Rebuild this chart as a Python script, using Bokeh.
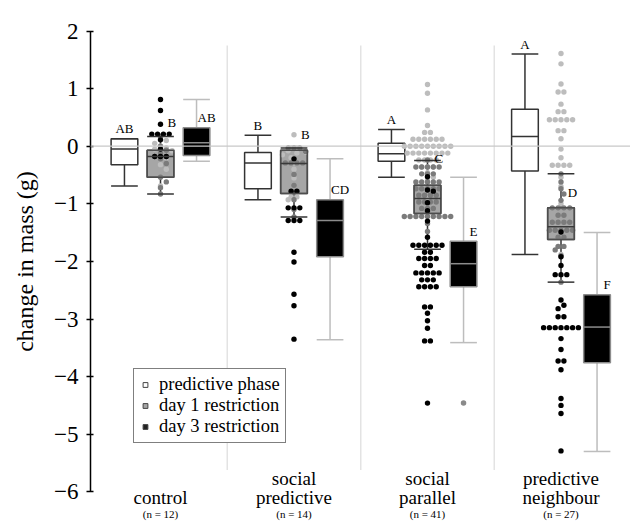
import numpy as np
from bokeh.plotting import figure
from bokeh.models import Range1d, FixedTicker, Legend, LegendItem, LinearAxis, Span
from bokeh.core.properties import value
from bokeh.embed import file_html
from bokeh.resources import INLINE

# ---------------- data ----------------
groups = ["control", "social predictive", "social parallel", "predictive neighbour"]
label_top = ["", "social", "social", "predictive"]
label_bottom = ["control", "predictive", "parallel", "neighbour"]
n_labels = ["(n = 12)", "(n = 14)", "(n = 41)", "(n = 27)"]
phases = ["predictive phase", "day 1 restriction", "day 3 restriction"]

# box statistics (q1, median, q3, lower whisker, upper whisker) per group
pp_q1 = [-0.32, -0.74, -0.26, -0.43]
pp_med = [-0.05, -0.29, -0.13, 0.17]
pp_q3 = [0.13, -0.11, 0.05, 0.64]
pp_lo = [-0.69, -0.93, -0.54, -1.88]
pp_hi = [0.13, 0.19, 0.29, 1.60]

d1_q1 = [-0.54, -0.82, -1.17, -1.62]
d1_med = [-0.18, -0.30, -0.91, -1.40]
d1_q3 = [-0.07, -0.07, -0.68, -1.07]
d1_lo = [-0.83, -1.23, -1.79, -2.36]
d1_hi = [0.17, -0.03, -0.25, -0.48]

d3_q1 = [-0.16, -1.92, -2.44, -3.76]
d3_med = [0.06, -1.29, -2.04, -3.14]
d3_q3 = [0.32, -0.93, -1.65, -2.58]
d3_lo = [-0.26, -3.36, -3.41, -5.30]
d3_hi = [0.81, -0.22, -0.54, -1.50]

d3_outlier_group = [2]
d3_outlier_value = [-4.46]

# significance letters
pp_letters = ["AB", "B", "A", "A"]
d1_letters = ["B", "B", "C", "D"]
d3_letters = ["AB", "CD", "E", "F"]
d1_letter_y = [0.41, 0.20, -0.21, -0.80]

# individual values (one list per group)
pp_points = [
    [0.13, 0.10, 0.05, 0.0, -0.03, -0.05, -0.08, -0.12, -0.20, -0.32, -0.40, -0.69],
    [0.20, -0.03, -0.03, -0.08, -0.10, -0.12, -0.15, -0.20, -0.29, -0.40, -0.55, -0.88, -0.88, -0.93],
    [1.07, 0.92, 0.63, 0.36, 0.24, 0.24] + [0.12] * 6 + [0.0] * 9 + [-0.12] * 8 + [-0.24] * 4
    + [-0.36] * 3 + [-0.46, -0.54, -0.60, -0.75, -0.90],
    [1.61, 1.43, 1.08, 0.94, 0.94, 0.73, 0.60, 0.60] + [0.46] * 5 + [0.27, 0.27, 0.13, -0.05, -0.20]
    + [-0.33] * 4 + [-0.54, -0.70, -1.00, -1.45, -1.88],
]
d1_points = [
    [0.17, 0.0, -0.07, -0.12, -0.18, -0.18, -0.22, -0.30, -0.54, -0.62, -0.72, -0.83],
    [-0.03, -0.03, -0.03, -0.09, -0.29, -0.29, -0.29, -0.29, -0.49, -0.68, -0.80, -0.93, -1.10, -1.23],
    [-0.24] + [-0.36] * 5 + [-0.48] * 3 + [-0.62] * 5 + [-0.74] * 5 + [-0.85] * 4 + [-0.97] * 4
    + [-1.08] * 3 + [-1.22] * 9 + [-1.34, -1.48],
    [-0.48, -0.62, -0.74, -0.83, -0.94] + [-1.07] * 4 + [-1.20] * 2 + [-1.32] * 4 + [-1.46] * 5
    + [-1.58] * 2 + [-1.74] * 2 + [-1.80, -1.90, -2.36],
]
d3_points = [
    [0.81, 0.62, 0.38, 0.21, 0.21, 0.21, 0.21, 0.11, -0.05, -0.18, -0.18, -0.18],
    [-0.22, -0.78, -0.78, -1.07, -1.07, -1.07, -1.29, -1.29, -1.29, -1.84, -2.01, -2.57, -2.77, -3.35],
    [-0.53, -0.76, -0.78, -0.98, -1.12, -1.30, -1.58] + [-1.72] * 6 + [-1.84] * 2 + [-1.95] * 4
    + [-2.07] * 2 + [-2.20] * 5 + [-2.32] * 3 + [-2.44] * 4 + [-2.79] * 2 + [-2.90, -3.03, -3.16]
    + [-3.38] * 2 + [-4.46],
    [-1.49, -1.92, -2.07] + [-2.23] * 3 + [-2.67, -2.76, -2.82] + [-2.96] * 2 + [-3.15] * 7
    + [-3.34, -3.53] + [-3.73] * 2 + [-3.88, -4.38, -4.50, -4.64, -5.29],
]

yticks = [-6, -5, -4, -3, -2, -1, 0, 1, 2]

# ---------------- layout ----------------
W, H = 630, 522
LEFT = 90
ZERO_PX = 145.7
YPX = 57.6
XPX = 133.5
X_CENTER0 = 160.0
X0 = (LEFT - X_CENTER0) / XPX
X1 = (W - X_CENTER0) / XPX
Y1 = ZERO_PX / YPX
Y0 = (ZERO_PX - H) / YPX
OFF = [-0.27, 0.0, 0.27]
BOXW = 0.2
FONT = "Liberation Serif"


def ypix(py):
    """data value at a given vertical pixel of the canvas"""
    return (ZERO_PX - py) / YPX


p = figure(width=W, height=H, x_range=Range1d(X0, X1), y_range=Range1d(Y0, Y1),
           output_backend="svg", toolbar_location=None,
           x_axis_location=None, y_axis_location=None,
           min_border_left=LEFT, min_border_right=0, min_border_top=0, min_border_bottom=0)
p.outline_line_color = None
p.grid.visible = False
p.background_fill_color = "white"

yaxis = LinearAxis(ticker=FixedTicker(ticks=yticks), bounds=(-6, 2))
yaxis.major_label_overrides = {t: (("\u2212" + str(-t)) if t < 0 else str(t)) for t in yticks}
yaxis.axis_label = "change in mass (g)"
yaxis.axis_label_text_font = FONT
yaxis.axis_label_text_font_size = "24px"
yaxis.axis_label_text_font_style = "normal"
yaxis.axis_label_text_color = "black"
yaxis.axis_label_standoff = 13
yaxis.major_label_text_font = FONT
yaxis.major_label_text_font_size = "23px"
yaxis.major_label_text_color = "black"
yaxis.major_label_standoff = 8
yaxis.major_tick_in = 3
yaxis.major_tick_out = 4
yaxis.minor_tick_in = 0
yaxis.minor_tick_out = 0
yaxis.axis_line_width = 1.5
yaxis.axis_line_color = "black"
yaxis.major_tick_line_width = 1.5
yaxis.major_tick_line_color = "black"
p.add_layout(yaxis, "left")

ng = len(groups)
gx = np.arange(ng, dtype=float)

# separators and zero line
p.segment(x0=gx[:-1] + 0.5, x1=gx[:-1] + 0.5, y0=1.75, y1=-5.62, line_color="#e3e3e3", line_width=1.5)
p.add_layout(Span(location=0, dimension="width", line_color="#c8c8c8", line_width=1.2))

stats = [
    (pp_q1, pp_med, pp_q3, pp_lo, pp_hi),
    (d1_q1, d1_med, d1_q3, d1_lo, d1_hi),
    (d3_q1, d3_med, d3_q3, d3_lo, d3_hi),
]
fills = ["white", "#a6a6a6", "black"]
lines = ["#333333", "#4d4d4d", "#8c8c8c"]
meds = ["#333333", "#3a3a3a", "#8c8c8c"]
whisk = ["#333333", "#333333", "#bdbdbd"]

for k in range(3):
    q1, med, q3, lo, hi = [np.array(a, float) for a in stats[k]]
    x = gx + OFF[k]
    p.segment(x0=x, x1=x, y0=q3, y1=hi, line_color=whisk[k], line_width=1.5)
    p.segment(x0=x, x1=x, y0=q1, y1=lo, line_color=whisk[k], line_width=1.5)
    p.vbar(x=x, width=BOXW, bottom=q1, top=q3, fill_color=fills[k], line_color=lines[k], line_width=1.5)
    if k != 1:
        p.segment(x0=x - BOXW / 2, x1=x + BOXW / 2, y0=med, y1=med, line_color=meds[k], line_width=1.5)
        p.segment(x0=x - BOXW / 2, x1=x + BOXW / 2, y0=hi, y1=hi, line_color=whisk[k], line_width=1.5)
        p.segment(x0=x - BOXW / 2, x1=x + BOXW / 2, y0=lo, y1=lo, line_color=whisk[k], line_width=1.5)

# outliers of day 3
p.scatter(x=np.array(d3_outlier_group, float) + OFF[2], y=d3_outlier_value, size=5.5,
          fill_color="#8a8a8a", line_color=None)


def swarm(vals, step):
    vals = np.asarray(vals, float)
    order = np.argsort(-vals, kind="stable")
    offs = np.zeros(len(vals))
    placed = []
    cands = [0.0]
    for m in range(1, 60):
        cands += [m * step / 2, -m * step / 2]
    for i in order:
        y = vals[i] * YPX
        for c in cands:
            if all((c - px) ** 2 + (y - py) ** 2 >= (step * 0.97) ** 2 for px, py in placed):
                offs[i] = c
                placed.append((c, y))
                break
    for v in np.unique(vals):
        idx = np.where(vals == v)[0]
        if len(idx) > 1:
            offs[idx] -= offs[idx].mean()
    return offs / XPX


dot_colors = ["#bdbdbd", "#7b7b7b", "#000000"]
STEP = 5.8
for k, pts in enumerate([pp_points, d1_points, d3_points]):
    xs, ys = [], []
    for g in range(ng):
        o = swarm(pts[g], STEP)
        xs.extend(list(gx[g] + OFF[1] + o))
        ys.extend(pts[g])
    p.scatter(x=xs, y=ys, size=5.4, fill_color=dot_colors[k], line_color=None)

# day-1 box outline, median and caps on top of the dots
q1, med, q3, lo, hi = [np.array(a, float) for a in stats[1]]
x = gx + OFF[1]
p.vbar(x=x, width=BOXW, bottom=q1, top=q3, fill_color=None, line_color=lines[1], line_width=1.5)
p.segment(x0=x - BOXW / 2, x1=x + BOXW / 2, y0=med, y1=med, line_color=meds[1], line_width=1.5)
p.segment(x0=x - BOXW / 2, x1=x + BOXW / 2, y0=hi, y1=hi, line_color=whisk[1], line_width=1.5)
p.segment(x0=x - BOXW / 2, x1=x + BOXW / 2, y0=lo, y1=lo, line_color=whisk[1], line_width=1.5)

# letters
lt = dict(text_font=value(FONT), text_font_size="13px", text_align="center",
          text_baseline="middle", text_color="black")
p.text(x=gx + OFF[0], y=np.maximum(pp_hi, pp_q3) + 10 / YPX, text=pp_letters, **lt)
p.text(x=gx + OFF[1] + 0.085, y=d1_letter_y, text=d1_letters, **lt)
p.text(x=gx + OFF[2] + 0.075, y=np.array(d3_q3) + 10 / YPX, text=d3_letters, **lt)

# category labels
ct = dict(text_font=value(FONT), text_font_size="19px", text_align="center",
          text_baseline="middle", text_color="black")
p.text(x=gx, y=ypix(478), text=label_top, **ct)
p.text(x=gx, y=ypix(497), text=label_bottom, **ct)
p.text(x=gx, y=ypix(513), text=n_labels,
       text_font=value(FONT), text_font_size="11px", text_align="center",
       text_baseline="middle", text_color="black")

# legend (proxy glyphs placed outside the visible range)
leg_fill = ["white", "#a6a6a6", "#222222"]
leg_r = []
for k in range(3):
    leg_r.append(p.scatter(x=[X0 - 10], y=[Y0 - 10], marker="square", size=9, fill_color=leg_fill[k],
                           line_color="#444444", line_width=1))
legend = Legend(items=[LegendItem(label=phases[k], renderers=[leg_r[k]]) for k in range(3)],
                location=(43, 79), label_text_font=FONT, label_text_font_size="18.5px",
                label_text_color="black",
                border_line_color="black", border_line_width=1.2, padding=5, spacing=0,
                label_height=21, glyph_height=21, glyph_width=12, label_standoff=8, margin=0,
                background_fill_alpha=1.0)
p.add_layout(legend)

open("out.html", "w").write(file_html(p, INLINE))
